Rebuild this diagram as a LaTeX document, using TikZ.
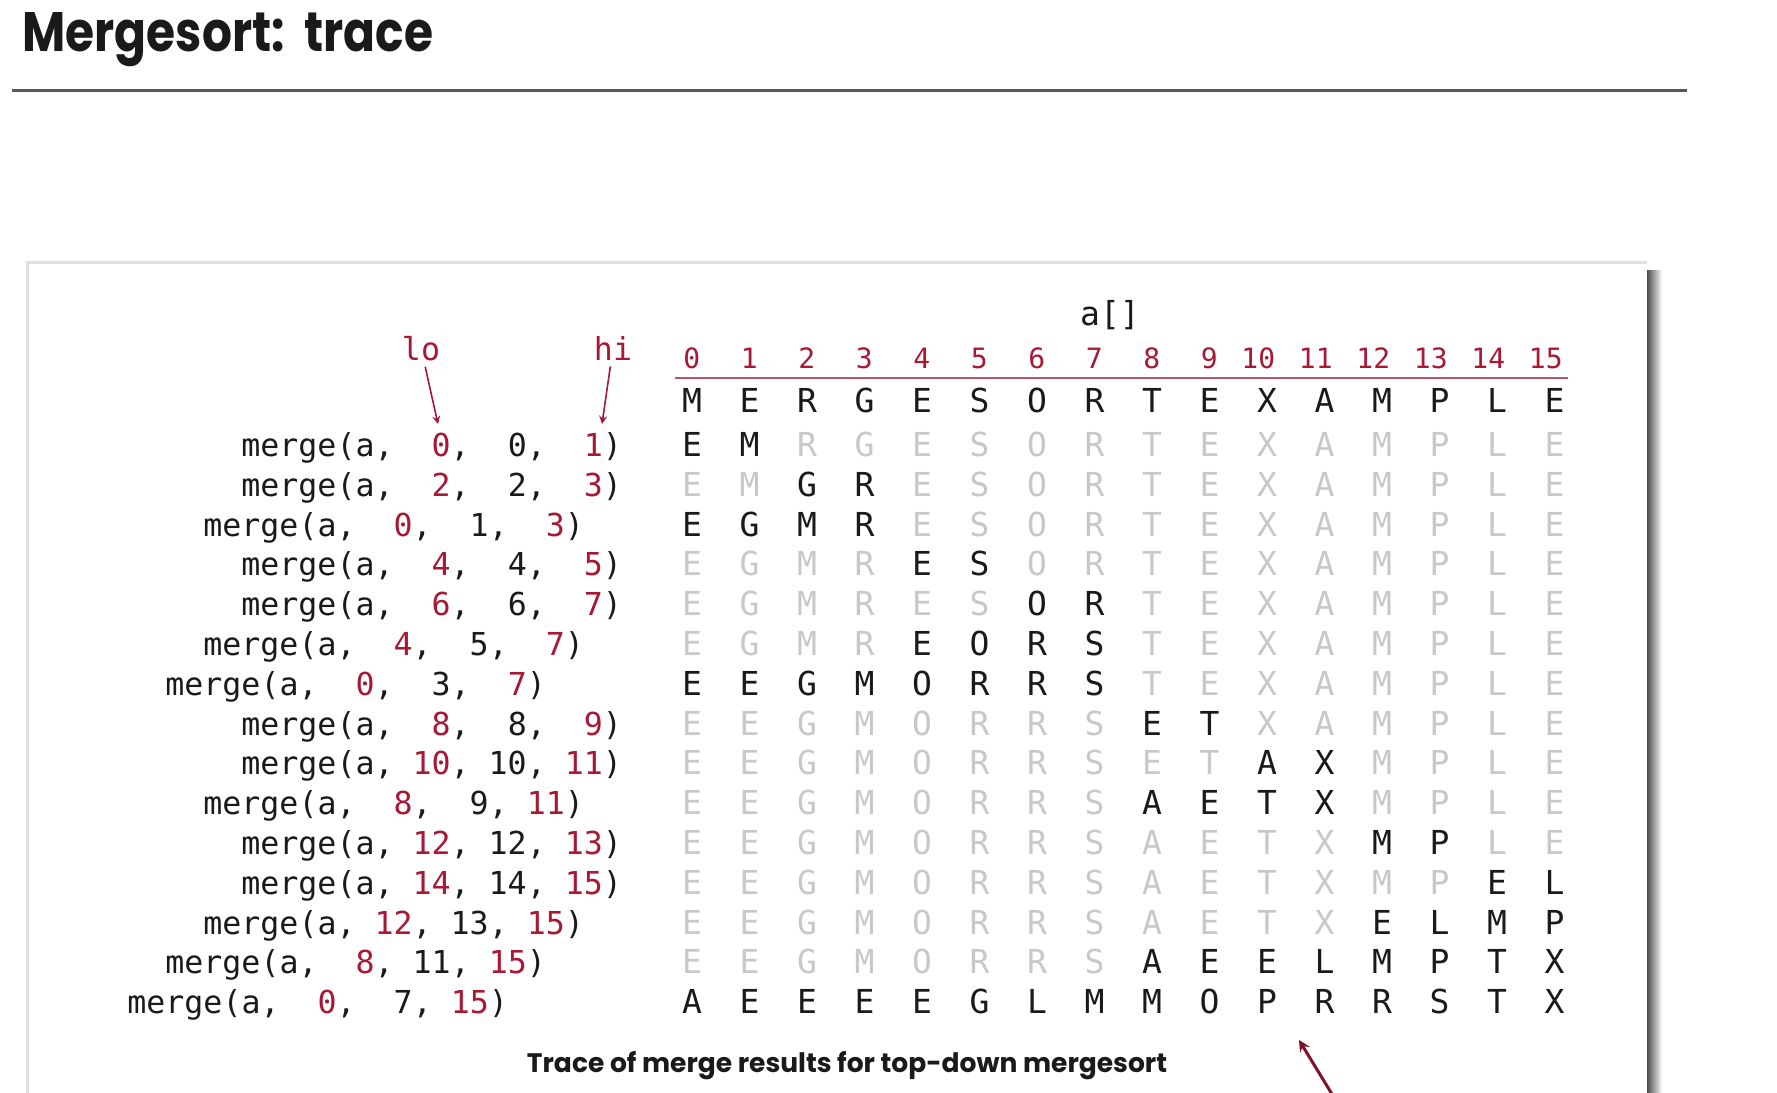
\documentclass[tikz,border=0pt]{standalone}
\usepackage{fontspec}
\usepackage{graphicx}
\setmonofont{DejaVu Sans Mono}
\newfontfamily\titlefont{Poppins}
\usetikzlibrary{arrows}

\definecolor{sedred}{RGB}{168,24,52}
\definecolor{ink}{RGB}{26,26,26}
\definecolor{faded}{RGB}{200,200,200}
\newcommand{\padnum}[2][ink]{\ifnum#2<10 \hphantom{0}\fi\textcolor{#1}{#2}}

\tikzset{
  call/.style={anchor=base west, inner sep=0pt, text=ink, font=\ttfamily\fontsize{15.8}{18}\selectfont},
  letter/.style={anchor=base, inner sep=0pt, font=\ttfamily\fontsize{16.5}{18}\selectfont},
  idx/.style={anchor=base east, inner sep=0pt, text=sedred, font=\ttfamily\fontsize{14}{16}\selectfont},
  pointer/.style={->, >=stealth, sedred, line width=0.8pt}
}

\begin{document}
\begin{tikzpicture}[x=0.5pt, y=-0.5pt]
\useasboundingbox (0,0) rectangle (1777,1092);
\clip (0,0) rectangle (1777,1092);

% heading
\node[anchor=base west, inner sep=0pt, text=ink] (title) at (22,52) {\resizebox{205.5pt}{19.5pt}{\titlefont\bfseries Mergesort:\ \ trace}};
\draw[black!65, line width=1.5pt] (12,90) -- (1687,90);

% card with its shadow
\fill[white] (27,262) rectangle (1647,1100);
\draw[black!12, line width=1.5pt] (27,1100) -- (27,262) -- (1647,262);
\shade[left color=black!70, right color=white] (1647,270) rectangle (1662,1100);

% array header
\node[letter, text=ink] (arr) at (1110,325) {a[]};
\foreach \i in {0,...,15}
  \node[idx] (i\i) at (692+57.5*\i+8.5, 368) {\i};
\draw[sedred!75, line width=1pt] (675,378) -- (1568,378);

% lo and hi
\node[call, anchor=base] (lo) at (421,360) {\textcolor{sedred}{lo}};
\node[call, anchor=base] (hi) at (613,360) {\textcolor{sedred}{hi}};
\coordinate (lotip) at (438,424);
\coordinate (hitip) at (602,424);
\draw[pointer, shorten <=3pt] (lo) -- (lotip);
\draw[pointer, shorten <=3pt] (hi) -- (hitip);

% input
\foreach \ch [count=\k from 0] in {M,E,R,G,E,S,O,R,T,E,X,A,M,P,L,E}
  \node[letter, text=ink] (c0-\k) at (692+57.5*\k, 412) {\ch};

% merge results
\foreach \lv/\lo/\mi/\hi/\word [count=\r] in {
  0/0/0/1/{E,M,R,G,E,S,O,R,T,E,X,A,M,P,L,E},
  0/2/2/3/{E,M,G,R,E,S,O,R,T,E,X,A,M,P,L,E},
  1/0/1/3/{E,G,M,R,E,S,O,R,T,E,X,A,M,P,L,E},
  0/4/4/5/{E,G,M,R,E,S,O,R,T,E,X,A,M,P,L,E},
  0/6/6/7/{E,G,M,R,E,S,O,R,T,E,X,A,M,P,L,E},
  1/4/5/7/{E,G,M,R,E,O,R,S,T,E,X,A,M,P,L,E},
  2/0/3/7/{E,E,G,M,O,R,R,S,T,E,X,A,M,P,L,E},
  0/8/8/9/{E,E,G,M,O,R,R,S,E,T,X,A,M,P,L,E},
  0/10/10/11/{E,E,G,M,O,R,R,S,E,T,A,X,M,P,L,E},
  1/8/9/11/{E,E,G,M,O,R,R,S,A,E,T,X,M,P,L,E},
  0/12/12/13/{E,E,G,M,O,R,R,S,A,E,T,X,M,P,L,E},
  0/14/14/15/{E,E,G,M,O,R,R,S,A,E,T,X,M,P,E,L},
  1/12/13/15/{E,E,G,M,O,R,R,S,A,E,T,X,E,L,M,P},
  2/8/11/15/{E,E,G,M,O,R,R,S,A,E,E,L,M,P,T,X},
  3/0/7/15/{A,E,E,E,E,G,L,M,M,O,P,R,R,S,T,X}}
{
  \node[call] (m\r) at (241-38*\lv, 416.7+39.8*\r) {merge(a, \padnum[sedred]{\lo}, \padnum{\mi}, \padnum[sedred]{\hi})};
  \foreach \ch [count=\k from 0] in \word {
    \ifnum\k<\lo \def\tint{faded}\else\ifnum\k>\hi \def\tint{faded}\else\def\tint{ink}\fi\fi
    \node[letter, text=\tint] (c\r-\k) at (692+57.5*\k, 416.7+39.8*\r) {\ch};
  }
}

% caption and pointer
\node[anchor=base, inner sep=0pt, text=ink] (caption) at (847,1072) {\resizebox{320pt}{10.5pt}{\titlefont\bfseries Trace of merge results for top-down mergesort}};
\coordinate (tail) at (1338,1104);
\coordinate (tip) at (1299,1040);
\draw[pointer, line width=1.5pt, sedred!75!black] (tail) -- (tip);
\end{tikzpicture}
\end{document}
